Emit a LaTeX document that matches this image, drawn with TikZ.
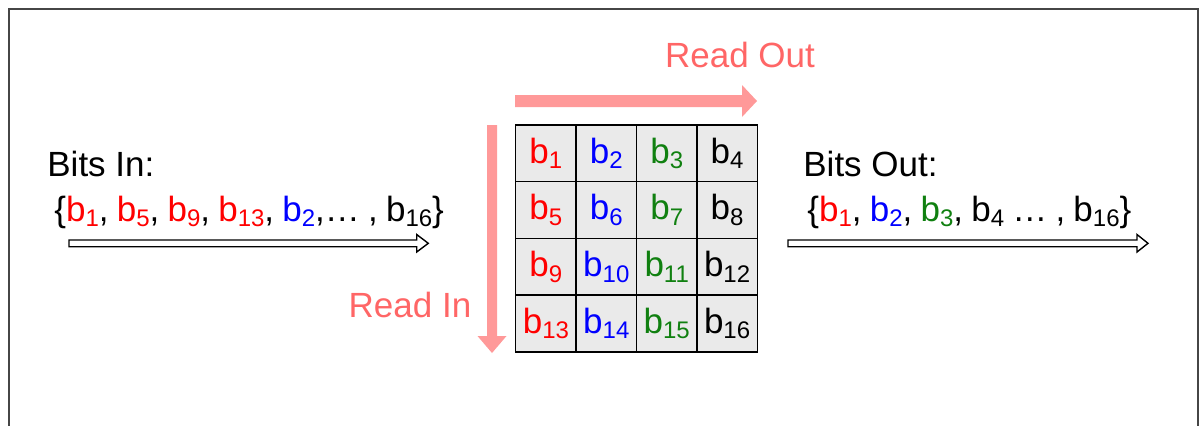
\documentclass[tikz,border=0pt]{standalone}
\usepackage{fontspec}
\setmainfont{Liberation Sans}
\definecolor{readred}{RGB}{255,153,153}
\definecolor{readtext}{RGB}{255,102,102}
\definecolor{bgreen}{RGB}{16,128,16}
\definecolor{cellgray}{RGB}{234,234,234}
\definecolor{framegray}{RGB}{70,70,70}
% one bit b_n in a colour
\newcommand{\bit}[2][black]{\textcolor{#1}{b\raisebox{-0.3ex}{\fontsize{12}{12}\selectfont #2}}}

\begin{document}
\begin{tikzpicture}[x=0.5pt,y=-0.5pt,
  word/.style={font=\fontsize{17.5}{21}\selectfont, inner sep=0pt},
  bitlist/.style={word, execute at begin node={\spaceskip=4.1pt\relax}},
  cell/.style={draw=black, line width=0.75pt, fill=cellgray, minimum width=30.2pt,
    minimum height=28.35pt, inner sep=0pt, font=\fontsize{17.5}{21}\selectfont}]
  \useasboundingbox (0,0) rectangle (1201,425);
  % open frame
  \draw[line width=1pt, framegray] (9,440) -- (9,9) -- (1198,9) -- (1198,440);

  % the 4x4 block
  \foreach \c/\col in {0/red,1/blue,2/bgreen,3/black} {
    \foreach \r in {0,...,3} {
      \pgfmathtruncatemacro{\n}{4*\r+\c+1}
      \node[cell] (b\n) at ({515.7+60.4*(\c+0.5)},{125+56.7*(\r+0.5)}) {\bit[\col]{\n}};
    }
  }

  % read directions
  \fill[readred] (515,95) -- (742,95) -- (742,85) -- (757,101) -- (742,117) -- (742,107) -- (515,107) -- cycle;
  \fill[readred] (487,125) -- (497,125) -- (497,336) -- (506.5,336) -- (492,353) -- (477.5,336) -- (487,336) -- cycle;
  \node[word, text=readtext] (readout) at (740,55) {Read Out};
  \node[word, text=readtext] (readin) at (410,305) {Read In};

  % bits in
  \node[word, anchor=base west] (inlabel) at (47,176) {Bits In:};
  \node[bitlist, anchor=base west] (inbits) at (54,221)
    {\{\bit[red]{1}, \bit[red]{5}, \bit[red]{9}, \bit[red]{13}, \bit[blue]{2},… , \bit{16}\}};
  \draw[line width=0.7pt, fill=white] (69,240) -- (416.7,240) -- (416.7,234.5) -- (428.3,243.3)
    -- (416.7,252) -- (416.7,246.7) -- (69,246.7) -- cycle;

  % bits out
  \node[word, anchor=base west] (outlabel) at (803,176) {Bits Out:};
  \node[bitlist, anchor=base west] (outbits) at (807,221)
    {\{\bit[red]{1}, \bit[blue]{2}, \bit[bgreen]{3}, \bit{4} … , \bit{16}\}};
  \draw[line width=0.7pt, fill=white] (788,240) -- (1137,240) -- (1137,234.5) -- (1148,243.3)
    -- (1137,252) -- (1137,246.7) -- (788,246.7) -- cycle;
\end{tikzpicture}
\end{document}
